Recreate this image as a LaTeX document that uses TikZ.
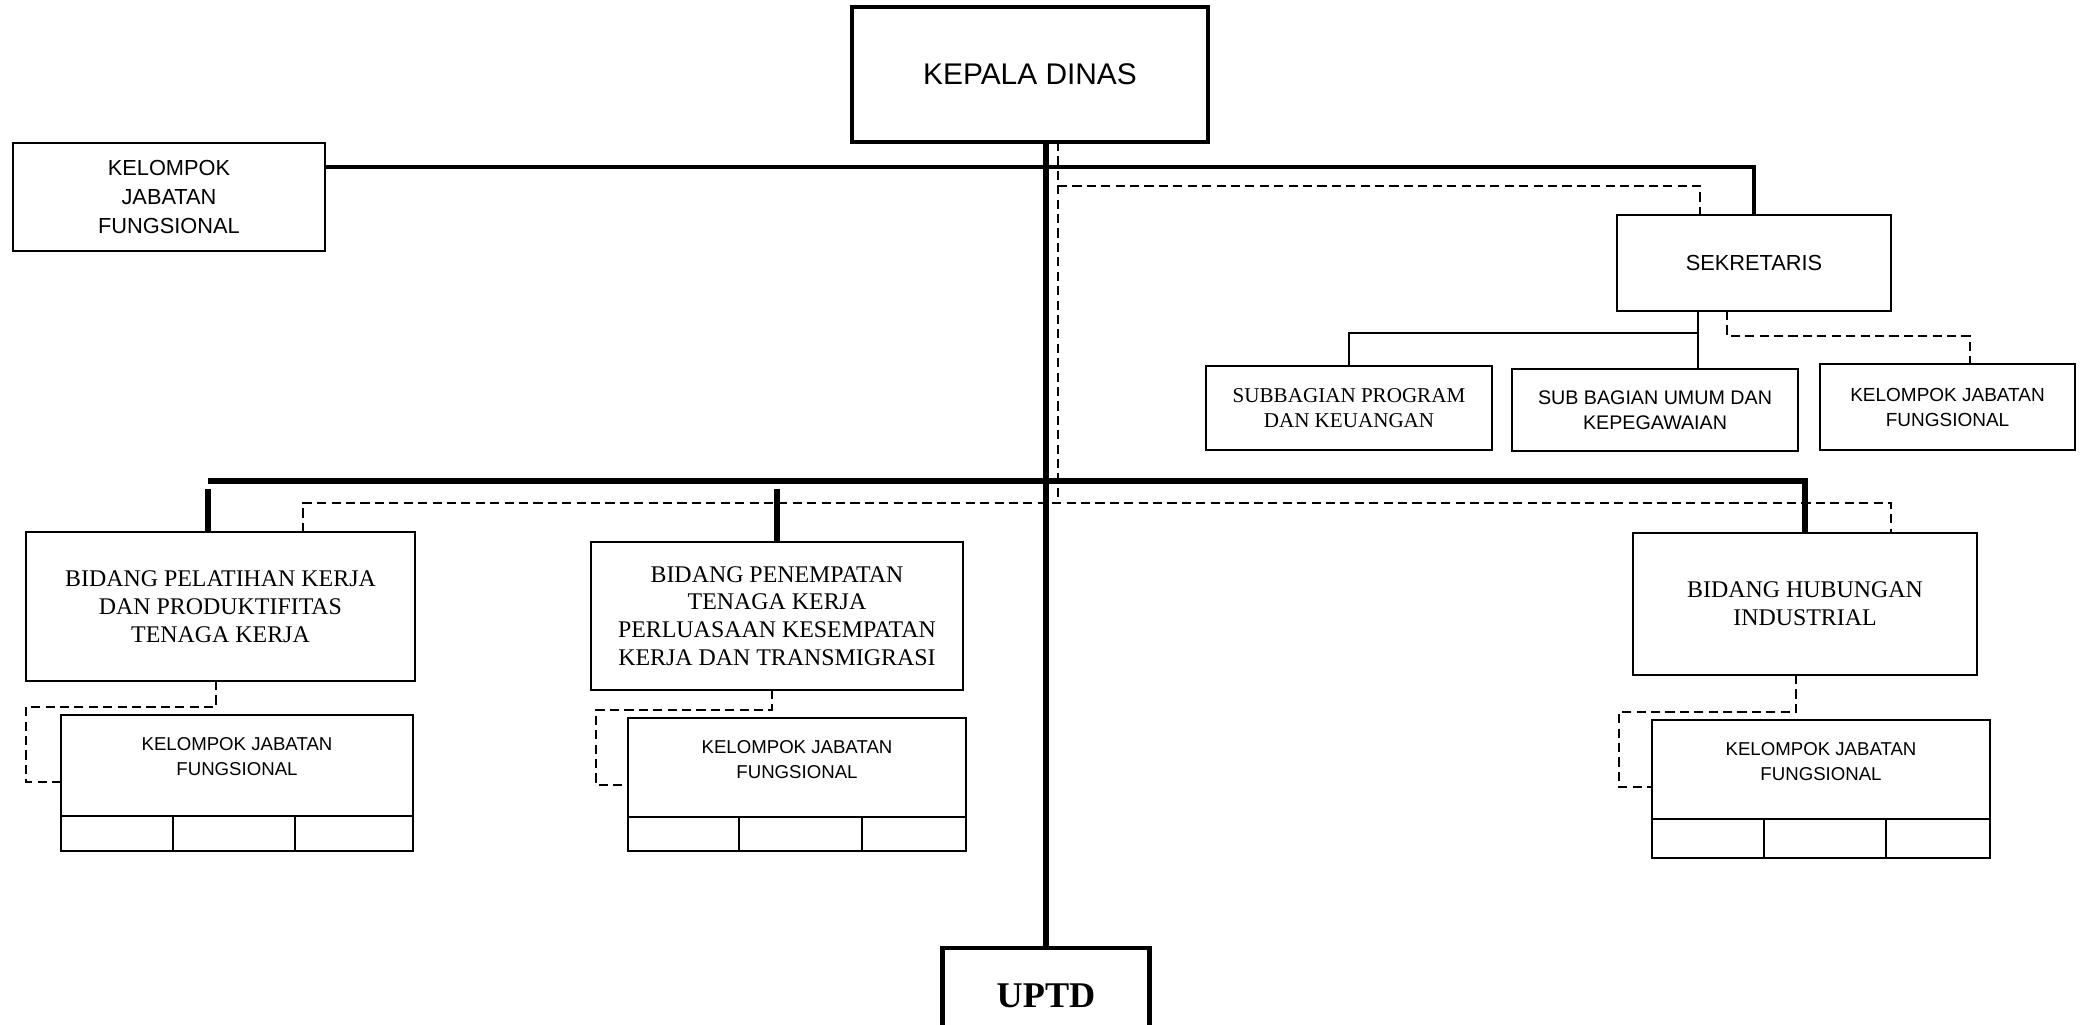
\documentclass[tikz,border=0pt]{standalone}
\usepackage{fontspec}
\setmainfont{Liberation Serif}
\setsansfont{Liberation Sans}
\usetikzlibrary{calc,positioning}

\tikzset{
  box/.style={draw, line width=0.6pt, align=center, inner sep=1pt, outer sep=0pt},
  sansbox/.style={box, font=\sffamily\fontsize{6.2}{8.3}\selectfont},
  serifbox/.style={box, font=\rmfamily\fontsize{6.8}{7.9}\selectfont},
  kjftext/.style={align=center, inner sep=1pt, font=\sffamily\fontsize{5.3}{7.1}\selectfont},
  cell/.style={draw, line width=0.6pt, anchor=north west, minimum height=0.35cm, inner sep=0pt, outer sep=0pt},
  trunk/.style={line width=1.5pt},
  bar/.style={line width=1.5pt},
  link/.style={line width=0.55pt},
  dlink/.style={line width=0.5pt, dash pattern=on 2.6pt off 1.5pt},
}

\begin{document}
\begin{tikzpicture}[x=1cm, y=-1cm]
  \useasboundingbox (0,0) rectangle (20.82,10.24);

  % top level
  \node[box, line width=1.2pt, minimum width=3.56cm, minimum height=1.35cm,
        font=\sffamily\fontsize{8.5}{10}\selectfont] (kd) at (10.30,0.745) {KEPALA DINAS};
  \node[sansbox, minimum width=3.12cm, minimum height=1.08cm] (kjfa) at (1.69,1.97) {KELOMPOK\\JABATAN\\FUNGSIONAL};
  \node[sansbox, minimum width=2.74cm, minimum height=0.96cm] (sek) at (17.54,2.63) {SEKRETARIS};

  % under sekretaris
  \node[serifbox, font=\rmfamily\fontsize{6}{7.1}\selectfont, minimum width=2.86cm, minimum height=0.84cm] (sbp) at (13.49,4.08) {SUBBAGIAN PROGRAM\\DAN KEUANGAN};
  \node[sansbox, font=\sffamily\fontsize{5.6}{7.1}\selectfont, minimum width=2.86cm, minimum height=0.82cm] (sbu) at (16.55,4.10) {SUB BAGIAN UMUM DAN\\KEPEGAWAIAN};
  \node[sansbox, font=\sffamily\fontsize{5.4}{7.1}\selectfont, minimum width=2.55cm, minimum height=0.86cm] (kjfr) at (19.475,4.07) {KELOMPOK JABATAN\\FUNGSIONAL};

  % bidang
  \node[serifbox, minimum width=3.89cm, minimum height=1.49cm] (bp) at (2.205,6.065) {BIDANG PELATIHAN KERJA\\DAN PRODUKTIFITAS\\TENAGA KERJA};
  \node[serifbox, minimum width=3.72cm, minimum height=1.48cm] (bpen) at (7.77,6.16) {BIDANG PENEMPATAN\\TENAGA KERJA\\PERLUASAAN KESEMPATAN\\KERJA DAN TRANSMIGRASI};
  \node[serifbox, minimum width=3.44cm, minimum height=1.42cm] (bhi) at (18.05,6.04) {BIDANG HUBUNGAN\\INDUSTRIAL};

  % kelompok jabatan fungsional under each bidang
  \node[box, minimum width=3.52cm, minimum height=1.01cm] (kjf1) at (2.37,7.655) {};
  \node[kjftext, below=0.18cm of kjf1.north] (kjf1t) {KELOMPOK JABATAN\\FUNGSIONAL};
  \node[cell, minimum width=1.12cm] (kjf1a) at (kjf1.south west) {};
  \node[cell, minimum width=1.22cm] (kjf1b) at (kjf1a.north east) {};
  \node[cell, minimum width=1.18cm] (kjf1c) at (kjf1b.north east) {};

  \node[box, minimum width=3.38cm, minimum height=0.99cm] (kjf2) at (7.97,7.675) {};
  \node[kjftext, below=0.18cm of kjf2.north] (kjf2t) {KELOMPOK JABATAN\\FUNGSIONAL};
  \node[cell, minimum width=1.11cm, minimum height=0.34cm] (kjf2a) at (kjf2.south west) {};
  \node[cell, minimum width=1.23cm, minimum height=0.34cm] (kjf2b) at (kjf2a.north east) {};
  \node[cell, minimum width=1.04cm, minimum height=0.34cm] (kjf2c) at (kjf2b.north east) {};

  \node[box, minimum width=3.38cm, minimum height=0.99cm] (kjf3) at (18.21,7.695) {};
  \node[kjftext, below=0.18cm of kjf3.north] (kjf3t) {KELOMPOK JABATAN\\FUNGSIONAL};
  \node[cell, minimum width=1.12cm, minimum height=0.39cm] (kjf3a) at (kjf3.south west) {};
  \node[cell, minimum width=1.22cm, minimum height=0.39cm] (kjf3b) at (kjf3a.north east) {};
  \node[cell, minimum width=1.04cm, minimum height=0.39cm] (kjf3c) at (kjf3b.north east) {};

  \node[box, line width=1.2pt, minimum width=2.07cm, minimum height=0.95cm,
        font=\rmfamily\bfseries\fontsize{10.3}{12}\selectfont] (uptd) at (10.46,9.955) {UPTD};

  % main line down to UPTD
  \draw[trunk] (uptd.north |- kd.south) -- (uptd.north);

  % line to kelompok jabatan and sekretaris
  \coordinate (sekturn) at (sek.north |- 0,1.67);
  \draw[line width=0.9pt] (kjfa.east |- sekturn) -- (sekturn) -- (sek.north);

  % dashed coordination lines
  \coordinate (dsplit) at (10.58,5.03);
  \coordinate (dsek) at (17.00,1.86);
  \draw[dlink] (dsplit |- kd.south) -- (dsplit);
  \draw[dlink] (dsplit |- dsek) -- (dsek) -- (dsek |- sek.north);
  \coordinate (dleft) at (3.03,5.03);
  \coordinate (dright) at (18.91,5.03);
  \draw[dlink] (dleft |- bp.north) -- (dleft) -- (dright) -- (dright |- bhi.north);

  % bar to the bidang
  \coordinate (barleft) at (2.08,4.81);
  \draw[bar] (barleft) -- (barleft -| bhi.north) -- (bhi.north);
  \draw[bar] (barleft |- 0,4.89) -- (barleft |- bp.north);
  \draw[bar] (bpen.north |- 0,4.89) -- (bpen.north);

  % sekretaris to its sub parts
  \coordinate (skl) at (16.98,3.33);
  \draw[link] (skl |- sek.south) -- (skl |- sbu.north);
  \draw[link] (skl) -| (sbp.north);
  \coordinate (skd) at (17.27,3.36);
  \coordinate (skr) at (19.70,3.36);
  \draw[dlink] (skd |- sek.south) -- (skd) -- (skr) -- (skr |- kjfr.north);

  % dashed loops to kelompok jabatan fungsional
  \coordinate (k1a) at (2.16,7.07);
  \coordinate (k1b) at (0.26,7.82);
  \draw[dlink] (k1a |- bp.south) -- (k1a) -| (k1b) -- (k1b -| kjf1.west);
  \coordinate (k2a) at (7.72,7.10);
  \coordinate (k2b) at (5.96,7.85);
  \draw[dlink] (k2a |- bpen.south) -- (k2a) -| (k2b) -- (k2b -| kjf2.west);
  \coordinate (k3a) at (17.96,7.12);
  \coordinate (k3b) at (16.19,7.87);
  \draw[dlink] (k3a |- bhi.south) -- (k3a) -| (k3b) -- (k3b -| kjf3.west);
\end{tikzpicture}
\end{document}
